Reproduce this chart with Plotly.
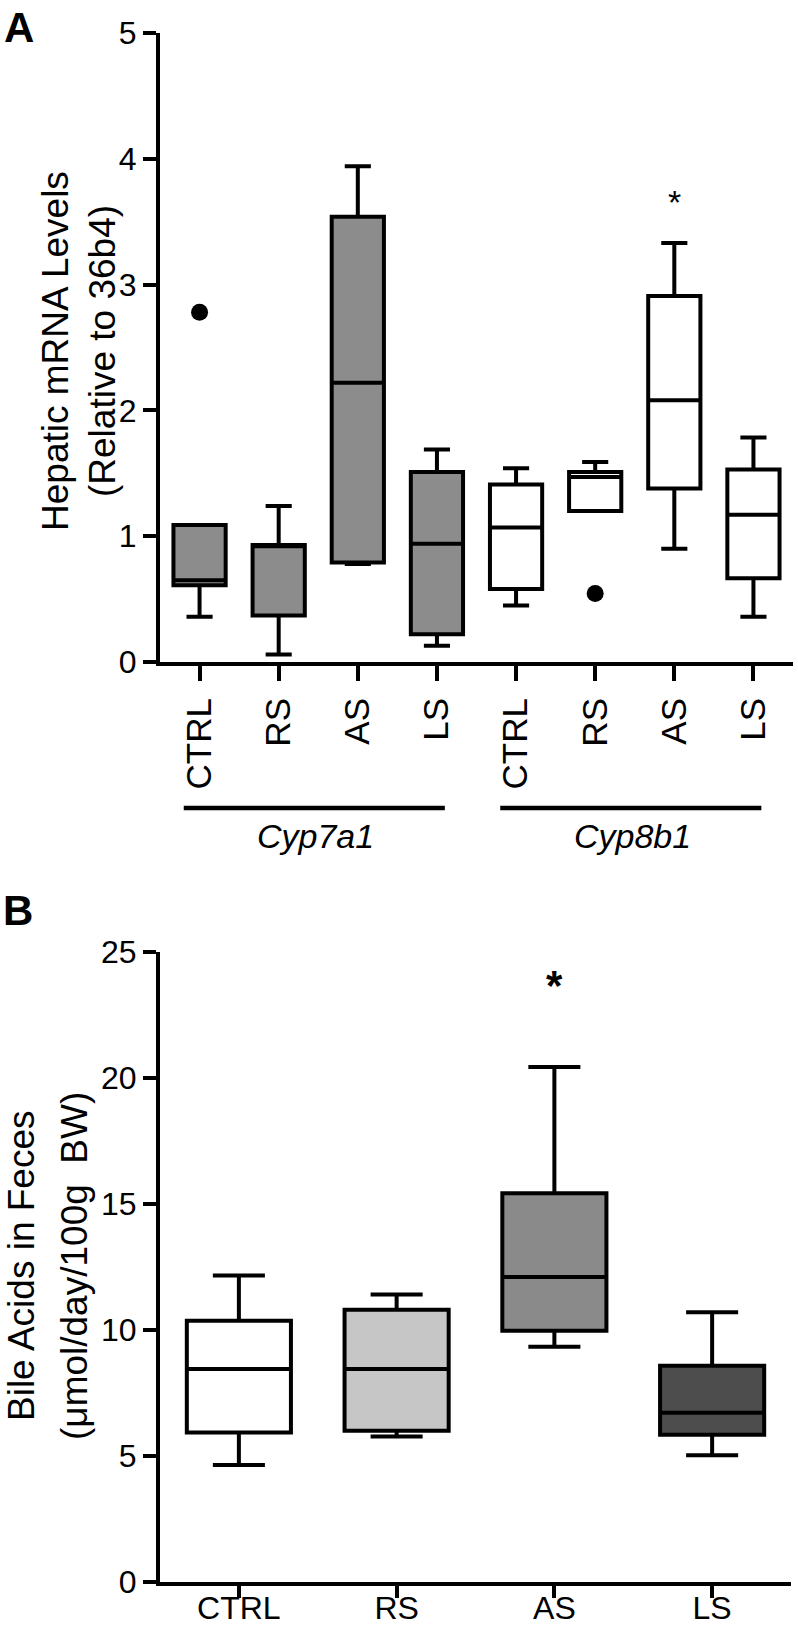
import plotly.graph_objects as go

W, H = 798, 1629
FONT = "Liberation Sans, Arial, sans-serif"

# ---------------- Panel A data (Hepatic mRNA, relative to 36b4) ----------------
a_categories = ["CTRL", "RS", "AS", "LS", "CTRL", "RS", "AS", "LS"]
a_genes = ["Cyp7a1", "Cyp7a1", "Cyp7a1", "Cyp7a1", "Cyp8b1", "Cyp8b1", "Cyp8b1", "Cyp8b1"]
a_lowerfence = [0.36, 0.06, 0.78, 0.13, 0.45, 1.20, 0.90, 0.36]
a_q1 = [0.61, 0.37, 0.79, 0.22, 0.58, 1.20, 1.38, 0.665]
a_median = [0.65, 0.92, 2.22, 0.94, 1.07, 1.47, 2.08, 1.17]
a_q3 = [1.09, 0.93, 3.54, 1.51, 1.41, 1.51, 2.91, 1.53]
a_upperfence = [1.09, 1.24, 3.94, 1.69, 1.54, 1.59, 3.33, 1.785]
a_fill = ["#8c8c8c", "#8c8c8c", "#8c8c8c", "#8c8c8c", "#ffffff", "#ffffff", "#ffffff", "#ffffff"]
a_outlier_idx = [0, 5]
a_outlier_val = [2.78, 0.545]
a_star_idx = [6]
a_star_val = [3.68]

# ---------------- Panel B data (Bile acids in feces) ----------------
b_categories = ["CTRL", "RS", "AS", "LS"]
b_lowerfence = [4.64, 5.77, 9.34, 5.03]
b_q1 = [5.93, 6.00, 9.97, 5.84]
b_median = [8.45, 8.45, 12.10, 6.72]
b_q3 = [10.37, 10.80, 15.43, 8.58]
b_upperfence = [12.16, 11.41, 20.44, 10.70]
b_fill = ["#ffffff", "#c6c6c6", "#8a8a8a", "#4d4d4d"]
b_star_idx = [2]
b_star_val = [24.05]

LW = 4
fig = go.Figure()

for i in range(len(a_categories)):
    fig.add_trace(go.Box(
        x=[i], q1=[a_q1[i]], median=[a_median[i]], q3=[a_q3[i]],
        lowerfence=[a_lowerfence[i]], upperfence=[a_upperfence[i]],
        fillcolor=a_fill[i], line=dict(color="black", width=LW),
        width=0.66, whiskerwidth=0.5, boxpoints=False,
        xaxis="x", yaxis="y", showlegend=False, hoverinfo="skip"))

fig.add_trace(go.Scatter(x=a_outlier_idx, y=a_outlier_val, mode="markers",
                         marker=dict(color="black", size=17),
                         xaxis="x", yaxis="y", showlegend=False, hoverinfo="skip"))

for i in range(len(b_categories)):
    fig.add_trace(go.Box(
        x=[i], q1=[b_q1[i]], median=[b_median[i]], q3=[b_q3[i]],
        lowerfence=[b_lowerfence[i]], upperfence=[b_upperfence[i]],
        fillcolor=b_fill[i], line=dict(color="black", width=LW),
        width=0.66, whiskerwidth=0.5, boxpoints=False,
        xaxis="x2", yaxis="y2", showlegend=False, hoverinfo="skip"))

axis_common = dict(showline=True, linecolor="black", linewidth=LW, showgrid=False,
                   zeroline=False, ticks="outside", tickwidth=LW, tickcolor="black",
                   automargin=False,
                   tickfont=dict(family=FONT, size=32, color="black"), fixedrange=True)

fig.update_layout(
    template="none",
    width=W, height=H,
    margin=dict(l=0, r=0, t=0, b=0, autoexpand=False),
    paper_bgcolor="white", plot_bgcolor="white",
    font=dict(family=FONT, color="black"),
    xaxis=dict(axis_common, domain=[160 / W, 793 / W], range=[-0.5, 7.5],
               tickvals=list(range(len(a_categories))), ticktext=a_categories,
               tickangle=-90, ticklen=15, anchor="y", ticklabelstandoff=3,
               tickfont=dict(family=FONT, size=35, color="black")),
    yaxis=dict(axis_common, domain=[1 - 662 / H, 1 - 33 / H], range=[0, 5],
               tickvals=[0, 1, 2, 3, 4, 5], ticklen=13, anchor="x"),
    xaxis2=dict(axis_common, domain=[160 / W, 791 / W], range=[-0.5, 3.5],
                tickvals=list(range(len(b_categories))), ticktext=b_categories,
                tickangle=0, ticklen=12, anchor="y2", ticklabelstandoff=-17,
                tickfont=dict(family=FONT, size=32, color="black")),
    yaxis2=dict(axis_common, domain=[1 - 1582 / H, 1 - 952 / H], range=[0, 25],
                tickvals=[0, 5, 10, 15, 20, 25], ticklen=13, anchor="x2"),
)

# Gene group bars and labels under panel A
shapes = []
annotations = []
for g in ["Cyp7a1", "Cyp8b1"]:
    idx = [i for i, v in enumerate(a_genes) if v == g]
    c = (idx[0] + idx[-1]) / 2
    shapes.append(dict(type="line", xref="x", yref="paper",
                       x0=c - 1.7, x1=c + 1.6, y0=1 - 808 / H, y1=1 - 808 / H,
                       line=dict(color="black", width=4.5)))
    annotations.append(dict(text="<i>%s</i>" % g, xref="x", yref="paper",
                            x=c - 0.03, y=1 - 836 / H, showarrow=False,
                            xanchor="center", yanchor="middle",
                            font=dict(family=FONT, size=34, color="black")))

# significance stars
for i, v in zip(a_star_idx, a_star_val):
    annotations.append(dict(text="*", xref="x", yref="y", x=i, y=v, showarrow=False,
                            xanchor="center", yanchor="middle", yshift=-3,
                            font=dict(family=FONT, size=34, color="black")))
for i, v in zip(b_star_idx, b_star_val):
    annotations.append(dict(text="<b>*</b>", xref="x2", yref="y2", x=i, y=v, showarrow=False,
                            xanchor="center", yanchor="middle", yshift=-10,
                            font=dict(family=FONT, size=42, color="black")))

# y-axis titles (two lines each)
def vtitle(text, px, py, size=37):
    return dict(text=text, xref="paper", yref="paper", x=px / W, y=1 - py / H,
                textangle=-90, showarrow=False, xanchor="center", yanchor="middle",
                font=dict(family=FONT, size=size, color="black"))

annotations.append(vtitle("Hepatic mRNA Levels", 55, 351))
annotations.append(vtitle("(Relative to 36b4)", 102, 351))
annotations.append(vtitle("Bile Acids in Feces", 21, 1266))
annotations.append(vtitle("(μmol/day/100g\u00a0 BW)", 74, 1266))

# panel letters
annotations.append(dict(text="<b>A</b>", xref="paper", yref="paper", x=19 / W, y=1 - 28 / H,
                        showarrow=False, xanchor="center", yanchor="middle",
                        font=dict(family=FONT, size=42, color="black")))
annotations.append(dict(text="<b>B</b>", xref="paper", yref="paper", x=18 / W, y=1 - 910 / H,
                        showarrow=False, xanchor="center", yanchor="middle",
                        font=dict(family=FONT, size=42, color="black")))

fig.update_layout(shapes=shapes, annotations=annotations)

fig.write_html("out.html",
               config={"displayModeBar": False},
               post_script="document.body.style.margin='0';"
                           "document.body.style.padding='0';"
                           "document.body.style.overflow='hidden';")
